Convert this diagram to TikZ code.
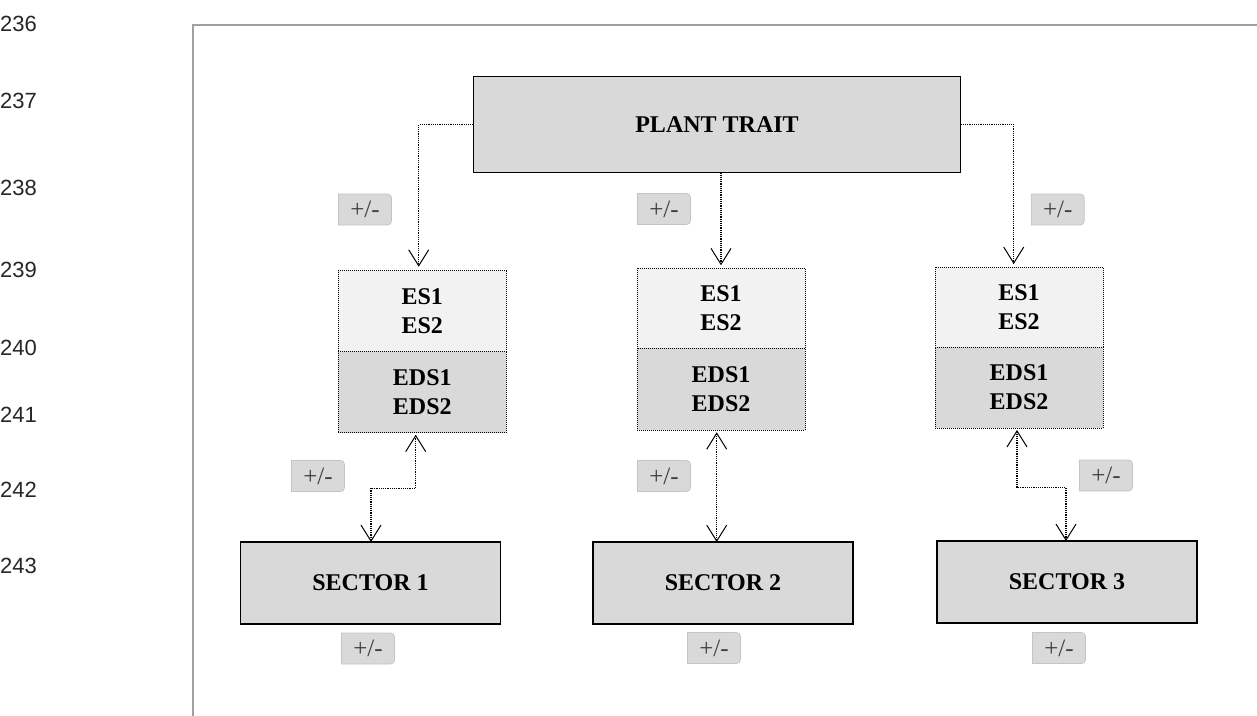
\documentclass[tikz,border=0pt]{standalone}
\usepackage{fontspec}
\setmainfont{Liberation Serif}
\newfontfamily\numfont{Liberation Sans}
\usetikzlibrary{arrows.meta}
\definecolor{boxgray}{HTML}{D9D9D9}
\definecolor{paleg}{HTML}{F2F2F2}
\definecolor{tagline}{HTML}{C4C4C4}
\definecolor{tagtext}{HTML}{404040}
\definecolor{framegray}{HTML}{A0A0A0}

% rounded-right +/- tag with a named text node
\newcommand{\pmtag}[3]{%
  \filldraw[fill=boxgray, draw=tagline, line width=0.8pt]
    (#2-26.5,#3-15.5) [rounded corners=4pt] -- (#2+26.5,#3-15.5) -- (#2+26.5,#3+15.5) [sharp corners] -- (#2-26.5,#3+15.5) -- cycle;
  \node[tagtxt] (#1) at (#2,#3) {+/-};
}

\begin{document}
\begin{tikzpicture}[x=1pt,y=-1pt,
  >={Straight Barb[length=16pt,width=20pt,line width=1pt]},
  boxtext/.style={font=\fontsize{24}{29}\selectfont\bfseries, align=center, inner sep=0pt, outer sep=0pt},
  solidbox/.style={boxtext, draw=black, line width=1.6pt, fill=boxgray},
  dotbox/.style={boxtext, draw=black, line width=0.9pt, dash pattern=on 1pt off 1pt},
  link/.style={line width=1.1pt, dash pattern=on 1.2pt off 1pt},
  tagtxt/.style={font=\fontsize{25}{27}\selectfont, text=tagtext, inner sep=0pt},
  lnum/.style={font=\numfont\fontsize{22}{24}\selectfont, text=black!85, anchor=west, inner sep=0pt}
]
\useasboundingbox (0,0) rectangle (1257,715);

% margin line numbers
\node[lnum] (n236) at (0,24) {236};
\node[lnum] (n237) at (0,101) {237};
\node[lnum] (n238) at (0,188) {238};
\node[lnum] (n239) at (0,270) {239};
\node[lnum] (n240) at (0,348) {240};
\node[lnum] (n241) at (0,415) {241};
\node[lnum] (n242) at (0,490) {242};
\node[lnum] (n243) at (0,566) {243};

% frame
\draw[framegray, line width=2pt] (1260,24.5) -- (192.7,24.5) -- (192.7,720);

% top box
\node[solidbox, minimum width=487pt, minimum height=96pt] (plant) at (717,124.3) {PLANT TRAIT};

% service boxes
\node[dotbox, fill=paleg, minimum width=168pt, minimum height=81pt] (es1) at (422.3,311.2) {ES1\\ES2};
\node[dotbox, fill=boxgray, minimum width=168pt, minimum height=81pt] (eds1) at (422.3,392.2) {EDS1\\EDS2};
\node[dotbox, fill=paleg, minimum width=168pt, minimum height=80pt] (es2) at (721,308.3) {ES1\\ES2};
\node[dotbox, fill=boxgray, minimum width=168pt, minimum height=82pt] (eds2) at (721,389.3) {EDS1\\EDS2};
\node[dotbox, fill=paleg, minimum width=168pt, minimum height=80pt] (es3) at (1019,307) {ES1\\ES2};
\node[dotbox, fill=boxgray, minimum width=168pt, minimum height=81pt] (eds3) at (1019,387.5) {EDS1\\EDS2};

% sectors
\node[solidbox, minimum width=260pt, minimum height=82pt] (sec1) at (370.5,583) {SECTOR 1};
\node[solidbox, minimum width=260pt, minimum height=82pt] (sec2) at (723,583) {SECTOR 2};
\node[solidbox, minimum width=260pt, minimum height=82pt] (sec3) at (1067,582) {SECTOR 3};

% bends
\coordinate (k1) at (418.7,124.3);
\coordinate (k3) at (1013.7,124.3);
\coordinate (b1a) at (415.7,488.3);
\coordinate (b1b) at (371,488.3);
\coordinate (b3a) at (1017,487.7);
\coordinate (b3b) at (1066,487.7);

% plant trait to services
\draw[link, ->, shorten >=4pt] (plant.west) -- (k1) -- (k1 |- es1.north);
\draw[link, ->, shorten >=3pt] (es2.north |- plant.south) -- (es2.north);
\draw[link, ->, shorten >=3pt] (plant.east) -- (k3) -- (k3 |- es3.north);

% services to sectors
\draw[link, <->, shorten <=2pt] (b1a |- eds1.south) -- (b1a) -- (b1b) -- (b1b |- sec1.north);
\draw[link, <->, shorten <=2pt] (716.7,0 |- eds2.south) -- (716.7,0 |- sec2.north);
\draw[link, <->, shorten <=2pt] (b3a |- eds3.south) -- (b3a) -- (b3b) -- (b3b |- sec3.north);

% +/- tags
\pmtag{t1}{365}{209.5}
\pmtag{t2}{664}{209}
\pmtag{t3}{1057.7}{209.5}
\pmtag{t4}{318}{476}
\pmtag{t5}{664}{476}
\pmtag{t6}{1106}{475.5}
\pmtag{t7}{368}{648.5}
\pmtag{t8}{714}{648}
\pmtag{t9}{1059}{648}
\end{tikzpicture}
\end{document}
